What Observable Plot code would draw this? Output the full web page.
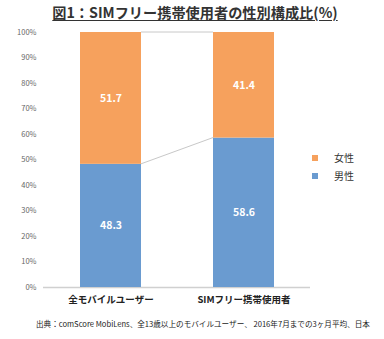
<!DOCTYPE html>
<html><head><meta charset="utf-8">
<script src="https://cdn.jsdelivr.net/npm/d3@7"></script>
<script src="https://cdn.jsdelivr.net/npm/@observablehq/plot@0.6"></script>
<style>
body{margin:0;background:#fff;font-family:"Noto Sans CJK JP","Noto Sans",sans-serif;}
#wrap{position:relative;width:384px;height:339px;overflow:hidden;}
#wrap svg{position:absolute;left:0;top:0;}
.t{position:absolute;white-space:nowrap;}
#title{left:0;width:390px;top:2px;text-align:center;font-size:14.2px;font-weight:bold;color:#333;text-decoration:underline;text-underline-offset:2px;}
#src{left:36px;top:318px;font-size:7.6px;color:#222;}
.leg{position:absolute;font-size:10px;color:#333;}
.sw{position:absolute;width:6px;height:6px;}
</style></head>
<body><div id="wrap">
<div id="title" class="t">図1：SIMフリー携帯使用者の性別構成比(%)</div>
<div class="sw" style="left:312px;top:155px;background:#f6a15d"></div>
<div class="leg t" style="left:334px;top:150px">女性</div>
<div class="sw" style="left:312px;top:173px;background:#6a9bd0"></div>
<div class="leg t" style="left:334px;top:168px">男性</div>
<div id="src" class="t">出典：comScore MobiLens、全13歳以上のモバイルユーザー、 2016年7月までの3ヶ月平均、日本</div>
</div>
<script>
const categories = ["全モバイルユーザー", "SIMフリー携帯使用者"];
const series = ["男性", "女性"];
const male = [48.3, 58.6];
const female = [51.7, 41.4];
const colors = ["#6a9bd0", "#f6a15d"];
const yTicks = [0,10,20,30,40,50,60,70,80,90,100];

const data = [];
series.forEach((s, si) => categories.forEach((c, ci) => {
  data.push({cat: c, sex: s, value: (si === 0 ? male : female)[ci]});
}));
const levels = [male, male.map((m, i) => m + female[i])];

function connectors(index, scales) {
  const x = scales.x, y = scales.y;
  const bw = typeof x.bandwidth === "function" ? x.bandwidth() : x.bandwidth;
  const g = d3.create("svg:g").attr("stroke", "#c8c8c8").attr("stroke-width", 1);
  levels.forEach(v => {
    g.append("line")
      .attr("x1", x(categories[0]) + bw).attr("y1", y(v[0]))
      .attr("x2", x(categories[1])).attr("y2", y(v[1]));
  });
  return g.node();
}

const chart = Plot.plot({
  width: 384, height: 339,
  marginTop: 32, marginBottom: 52, marginLeft: 43, marginRight: 74,
  style: {fontFamily: '"Noto Sans CJK JP","Noto Sans",sans-serif', background: "transparent"},
  x: {domain: categories, paddingInner: 0.545, paddingOuter: 0.269, label: null},
  y: {domain: [0, 100], label: null},
  color: {domain: series, range: colors},
  marks: [
    Plot.axisY({ticks: yTicks, tickSize: 0, tickPadding: 7, tickFormat: d => d + "%", fill: "#666", fontSize: 7.5}),
    Plot.axisX({tickSize: 0, tickPadding: 9, fill: "#222", fontSize: 9.5, fontWeight: "bold"}),
    Plot.ruleY([0], {stroke: "#d0d0d0", strokeWidth: 1.5}),
    connectors,
    Plot.barY(data, Plot.stackY({x: "cat", y: "value", fill: "sex", order: series})),
    Plot.text(data, Plot.stackY({x: "cat", y: "value", z: "sex", order: series, text: d => d.value.toFixed(1), fill: "white", fontWeight: "bold", fontSize: 10.5}))
  ]
});
document.getElementById("wrap").prepend(chart);
</script>
</body></html>
